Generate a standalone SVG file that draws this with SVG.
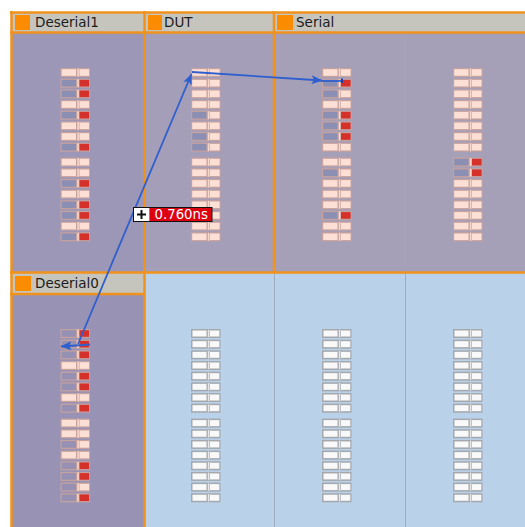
<svg xmlns="http://www.w3.org/2000/svg" width="525" height="527" viewBox="0 0 525 527">
  <style>
    .hdr { fill: #c6c5bd; }
    .ico { fill: #fb8c00; }
    .ttl { font-family: "DejaVu Sans", "Liberation Sans", sans-serif; font-size: 13.5px; fill: #1c1c1c; }
    .frame { stroke: #f1921c; stroke-width: 2.5; fill: none; }
    .halo { fill: #c7a19d; }
    .pk { fill: #fde0d5; }
    .dv { fill: #f7d8cd; }
    .off { fill: #8b8fb4; }
    .off0 { fill: #9691b3; }
    .on { fill: #d6302a; }
    .whalo { fill: #a4a8ad; }
    .wh { fill: #f9f9f9; }
    .wdv { fill: #e6e8ea; }
    .wire { stroke: #2f5fcf; stroke-width: 1.8; fill: none; }
  </style>
  <defs>
    <marker id="head" viewBox="0 0 11 9" refX="10.5" refY="4.5" markerWidth="11" markerHeight="9" markerUnits="userSpaceOnUse" orient="auto">
      <path d="M0,0 L11,4.5 L0,9 L2.5,4.5 Z" fill="#2f5fcf"/>
    </marker>
    <!-- cell shapes: left half = state, right half = value -->
    <g id="frame-c">
      <rect class="halo" width="29.5" height="9"/>
      <rect class="dv" x="16.8" y="0.6" width="1.6" height="7.8"/>
    </g>
    <g id="pp"><use href="#frame-c"/><rect class="pk" x="1.2" y="1.2" width="14.3" height="6.6"/><rect class="pk" x="19" y="1.2" width="9.6" height="6.6"/></g>
    <g id="bp"><use href="#frame-c"/><rect class="off" x="1.2" y="1.2" width="14.3" height="6.6"/><rect class="pk" x="19" y="1.2" width="9.6" height="6.6"/></g>
    <g id="br"><use href="#frame-c"/><rect class="off" x="1.2" y="1.2" width="14.3" height="6.6"/><rect class="on" x="19" y="1.2" width="9.6" height="6.6"/></g>
    <g id="or"><use href="#frame-c"/><rect class="off0" x="1.2" y="1.2" width="14.3" height="6.6"/><rect class="on" x="19" y="1.2" width="9.6" height="6.6"/></g>
    <g id="op"><use href="#frame-c"/><rect class="off0" x="1.2" y="1.2" width="14.3" height="6.6"/><rect class="pk" x="19" y="1.2" width="9.6" height="6.6"/></g>
    <g id="ww">
      <rect class="whalo" width="29.5" height="9"/>
      <rect class="wh" x="1.5" y="1.5" width="14" height="6"/>
      <rect class="wdv" x="16.8" y="0.8" width="1.6" height="7.4"/>
      <rect class="wh" x="19" y="1.5" width="9.3" height="6"/>
    </g>
    <!-- a column of 16 blank cells -->
    <g id="col-ww">
      <use href="#ww" y="0"/><use href="#ww" y="10.67"/><use href="#ww" y="21.33"/><use href="#ww" y="32"/>
      <use href="#ww" y="42.67"/><use href="#ww" y="53.33"/><use href="#ww" y="64"/><use href="#ww" y="74.67"/>
      <use href="#ww" y="89.6"/><use href="#ww" y="100.27"/><use href="#ww" y="110.93"/><use href="#ww" y="121.6"/>
      <use href="#ww" y="132.27"/><use href="#ww" y="142.93"/><use href="#ww" y="153.6"/><use href="#ww" y="164.27"/>
    </g>
  </defs>

  <rect width="525" height="527" fill="#ffffff"/>

  <!-- unused tiles, lower row -->
  <g id="free-tiles">
    <rect x="145" y="273" width="380" height="254" fill="#bad1ea"/>
    <line x1="274.5" y1="273" x2="274.5" y2="527" stroke="#9eacbc" stroke-width="1"/>
    <line x1="405.5" y1="273" x2="405.5" y2="527" stroke="#9eacbc" stroke-width="1"/>
    <use href="#col-ww" x="191" y="329"/>
    <use href="#col-ww" x="322" y="329"/>
    <use href="#col-ww" x="453" y="329"/>
  </g>

  <g id="node-deserial1">
    <rect x="11" y="33" width="134" height="240" fill="#9c97b7"/>
    <rect class="hdr" x="11" y="12" width="134" height="21"/>
    <rect class="ico" x="15" y="15" width="15" height="15"/>
    <text class="ttl" x="35" y="27">Deserial1</text>
    <g transform="translate(60.5,68)">
      <use href="#pp" y="0"/><use href="#br" y="10.67"/><use href="#br" y="21.33"/><use href="#pp" y="32"/>
      <use href="#br" y="42.67"/><use href="#pp" y="53.33"/><use href="#pp" y="64"/><use href="#br" y="74.67"/>
      <use href="#pp" y="89.6"/><use href="#pp" y="100.27"/><use href="#br" y="110.93"/><use href="#pp" y="121.6"/>
      <use href="#br" y="132.27"/><use href="#br" y="142.93"/><use href="#pp" y="153.6"/><use href="#br" y="164.27"/>
    </g>
  </g>

  <g id="node-dut">
    <rect x="145" y="33" width="129" height="240" fill="#a49eb8"/>
    <rect class="hdr" x="145" y="12" width="129" height="21"/>
    <rect class="ico" x="148" y="15" width="14" height="15"/>
    <text class="ttl" x="164" y="27">DUT</text>
    <g transform="translate(191,68)">
      <use href="#pp" y="0"/><use href="#pp" y="10.67"/><use href="#pp" y="21.33"/><use href="#pp" y="32"/>
      <use href="#bp" y="42.67"/><use href="#pp" y="53.33"/><use href="#bp" y="64"/><use href="#bp" y="74.67"/>
      <use href="#pp" y="89.6"/><use href="#pp" y="100.27"/><use href="#pp" y="110.93"/><use href="#pp" y="121.6"/>
      <use href="#pp" y="132.27"/><use href="#pp" y="142.93"/><use href="#pp" y="153.6"/><use href="#pp" y="164.27"/>
    </g>
  </g>

  <g id="node-serial">
    <rect x="274" y="33" width="251" height="240" fill="#a59fb8"/>
    <rect class="hdr" x="274" y="12" width="251" height="21"/>
    <rect class="ico" x="277" y="15" width="16" height="15"/>
    <text class="ttl" x="296" y="27">Serial</text>
    <line x1="405.5" y1="33" x2="405.5" y2="272" stroke="#b49fa6" stroke-width="1"/>
    <g transform="translate(322,68)">
      <use href="#pp" y="0"/><use href="#br" y="10.67"/><use href="#bp" y="21.33"/><use href="#pp" y="32"/>
      <use href="#br" y="42.67"/><use href="#br" y="53.33"/><use href="#br" y="64"/><use href="#pp" y="74.67"/>
      <use href="#pp" y="89.6"/><use href="#bp" y="100.27"/><use href="#pp" y="110.93"/><use href="#pp" y="121.6"/>
      <use href="#pp" y="132.27"/><use href="#br" y="142.93"/><use href="#pp" y="153.6"/><use href="#pp" y="164.27"/>
    </g>
    <g transform="translate(453,68)">
      <use href="#pp" y="0"/><use href="#pp" y="10.67"/><use href="#pp" y="21.33"/><use href="#pp" y="32"/>
      <use href="#pp" y="42.67"/><use href="#pp" y="53.33"/><use href="#pp" y="64"/><use href="#pp" y="74.67"/>
      <use href="#br" y="89.6"/><use href="#br" y="100.27"/><use href="#pp" y="110.93"/><use href="#pp" y="121.6"/>
      <use href="#pp" y="132.27"/><use href="#pp" y="142.93"/><use href="#pp" y="153.6"/><use href="#pp" y="164.27"/>
    </g>
  </g>

  <g id="node-deserial0">
    <rect x="11" y="294" width="134" height="233" fill="#9893b5"/>
    <rect class="hdr" x="11" y="273" width="134" height="21"/>
    <rect class="ico" x="15" y="276" width="16" height="15"/>
    <text class="ttl" x="35" y="288">Deserial0</text>
    <g transform="translate(60.5,329)">
      <use href="#or" y="0"/><use href="#or" y="10.67"/><use href="#or" y="21.33"/><use href="#pp" y="32"/>
      <use href="#or" y="42.67"/><use href="#or" y="53.33"/><use href="#pp" y="64"/><use href="#or" y="74.67"/>
      <use href="#pp" y="89.6"/><use href="#pp" y="100.27"/><use href="#op" y="110.93"/><use href="#pp" y="121.6"/>
      <use href="#or" y="132.27"/><use href="#or" y="142.93"/><use href="#op" y="153.6"/><use href="#or" y="164.27"/>
    </g>
  </g>

  <!-- tile borders -->
  <g id="borders">
    <line class="frame" x1="10" y1="12.5" x2="525" y2="12.5"/>
    <line class="frame" x1="10" y1="32.5" x2="525" y2="32.5"/>
    <line class="frame" x1="10" y1="272.5" x2="525" y2="272.5"/>
    <line class="frame" x1="10" y1="294" x2="145" y2="294"/>
    <line class="frame" x1="11.5" y1="11" x2="11.5" y2="527"/>
    <line class="frame" x1="144.5" y1="11" x2="144.5" y2="527"/>
    <line class="frame" x1="274" y1="11" x2="274" y2="273"/>
  </g>

  <g id="connectors">
    <path class="wire" d="M78,344 L191.5,74" marker-end="url(#head)"/>
    <path class="wire" d="M192,72 L322,80.5" marker-end="url(#head)"/>
    <path class="wire" d="M321,81 L342,81" stroke-width="1.4"/>
    <rect x="341" y="78.5" width="2" height="4.5" fill="#1f3fa8"/>
    <path class="wire" d="M90,344.5 L61,346.5" stroke-width="2.4" marker-end="url(#head)"/>
  </g>

  <g id="delay-label">
    <rect x="133.5" y="207.5" width="16" height="14" fill="#ffffff"/>
    <rect x="149.5" y="207.5" width="62.5" height="14" fill="#dc0010"/>
    <rect x="133.5" y="207.5" width="78.5" height="14" fill="none" stroke="#111111" stroke-width="1"/>
    <path d="M137,214.5 H146 M141.5,210 V219" stroke="#111111" stroke-width="2"/>
    <text x="154.5" y="219" font-family="DejaVu Sans, Liberation Sans, sans-serif" font-size="13.3" fill="#ffffff">0.760ns</text>
  </g>
</svg>
